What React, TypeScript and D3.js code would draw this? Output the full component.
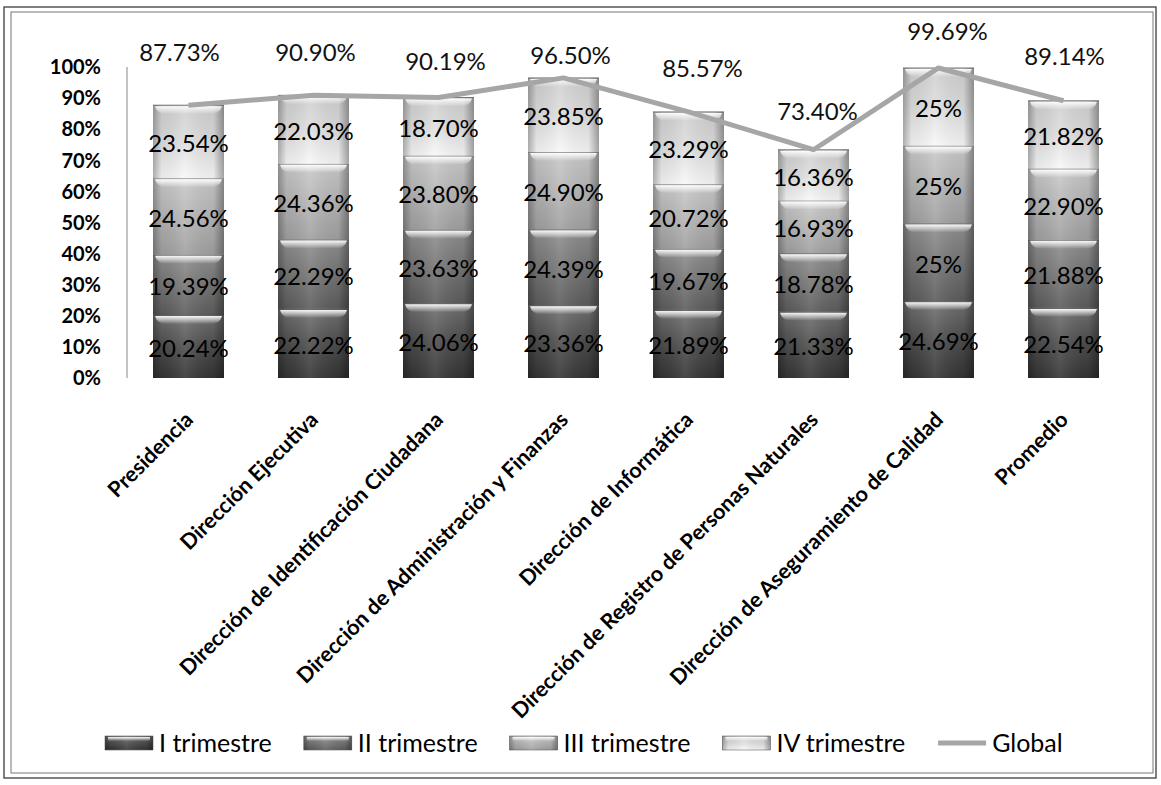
import React from "react";
import * as d3 from "d3";

const categories = [
  "Presidencia",
  "Dirección Ejecutiva",
  "Dirección de Identificación Ciudadana",
  "Dirección de Administración y Finanzas",
  "Dirección de Informática",
  "Dirección de Registro de Personas Naturales",
  "Dirección de Aseguramiento de Calidad",
  "Promedio",
];
const trimestreI = [20.24, 22.22, 24.06, 23.36, 21.89, 21.33, 24.69, 22.54];
const trimestreII = [19.39, 22.29, 23.63, 24.39, 19.67, 18.78, 25, 21.88];
const trimestreIII = [24.56, 24.36, 23.8, 24.9, 20.72, 16.93, 25, 22.9];
const trimestreIV = [23.54, 22.03, 18.7, 23.85, 23.29, 16.36, 25, 21.82];
const globalValues = [87.73, 90.9, 90.19, 96.5, 85.57, 73.4, 99.69, 89.14];
const seriesNames = ["I trimestre", "II trimestre", "III trimestre", "IV trimestre"];
const lineName = "Global";
const yTicks = [0, 10, 20, 30, 40, 50, 60, 70, 80, 90, 100];

// layout (not data): nudges of the Global labels, as placed in the reference
const globalLabelNudge: [number, number][] = [
  [-9, -53], [2, -43], [7, -36], [7, -22], [14, -43], [4, -38], [9, -36], [1, -44],
];

const W = 1161;
const H = 785;
const FONT = "Lato, 'Open Sans', sans-serif";

const seriesStops = [
  ["#727272", "#4e4e4e", "#343434"],
  ["#909090", "#767676", "#5c5c5c"],
  ["#cacaca", "#b6b6b6", "#a0a0a0"],
  ["#cfcfcf", "#dedede", "#f8f8f8"],
];

function fmt(v: number) {
  return Number.isInteger(v) ? `${v}%` : `${v.toFixed(2)}%`;
}

export default function App() {
  const x = d3.scaleBand<string>().domain(categories).range([126, 1126]).paddingInner(0.432).paddingOuter(0.216);
  const y = d3.scaleLinear().domain([0, 100]).range([378, 67]);
  const bw = x.bandwidth();

  const rows = categories.map((c, i) => ({
    cat: c,
    v0: trimestreI[i],
    v1: trimestreII[i],
    v2: trimestreIII[i],
    v3: trimestreIV[i],
  }));
  const stack = d3.stack<any>().keys(["v0", "v1", "v2", "v3"])(rows);

  const line = d3
    .line<number>()
    .x((_, i) => (x(categories[i]) as number) + bw / 2)
    .y((d) => y(d));

  const legendItems = [...seriesNames.map((n, i) => ({ name: n, kind: "bar", i })), { name: lineName, kind: "line", i: 4 }];
  const canvas = typeof document !== "undefined" ? document.createElement("canvas") : null;
  const ctx = canvas ? canvas.getContext("2d") : null;
  const legendFontSize = 25;
  if (ctx) ctx.font = `${legendFontSize}px ${FONT}`;
  let lx = 105;
  const legendPos = legendItems.map((it) => {
    const w = ctx ? ctx.measureText(it.name).width : it.name.length * 11;
    const p = { ...it, x: lx, tw: w };
    lx += 48 + 6 + w + 32;
    return p;
  });

  return (
    <svg width={W} height={H} style={{ position: "absolute", left: 0, top: 0, background: "#fff" }} fontFamily={FONT}>
      <defs>
        {seriesStops.map((s, i) => (
          <linearGradient key={i} id={`vg${i}`} x1="0" y1="0" x2="0" y2="1">
            <stop offset="0%" stopColor={s[0]} />
            <stop offset="50%" stopColor={s[1]} />
            <stop offset="100%" stopColor={s[2]} />
          </linearGradient>
        ))}
        <linearGradient id="hg" x1="0" y1="0" x2="1" y2="0">
          <stop offset="0%" stopColor="#000" stopOpacity={0.3} />
          <stop offset="12%" stopColor="#000" stopOpacity={0.06} />
          <stop offset="45%" stopColor="#fff" stopOpacity={0.1} />
          <stop offset="85%" stopColor="#000" stopOpacity={0.05} />
          <stop offset="100%" stopColor="#000" stopOpacity={0.35} />
        </linearGradient>
        <linearGradient id="shine" x1="0" y1="0" x2="0" y2="1">
          <stop offset="0%" stopColor="#fff" stopOpacity={0.95} />
          <stop offset="100%" stopColor="#fff" stopOpacity={0} />
        </linearGradient>
      </defs>

      {/* frame */}
      <rect x={4} y={7} width={1152} height={771} fill="none" stroke="#555" strokeWidth={1.5} />
      <rect x={11} y={12} width={1142} height={761} fill="none" stroke="#777" strokeWidth={1} />

      {/* y axis */}
      <line x1={127} x2={127} y1={y(100)} y2={y(0)} stroke="#888" strokeWidth={1} />
      {yTicks.map((t) => (
        <text key={t} x={101} y={y(t)} dy="0.36em" textAnchor="end" fontWeight="bold" fontSize={20} fill="#000">
          {`${t}%`}
        </text>
      ))}

      {/* bars */}
      {stack.map((layer, si) => (
        <g key={si}>
          {layer.map((d, i) => {
            const x0 = x(categories[i]) as number;
            const yt = y(d[1]);
            const yb = y(d[0]);
            const h = yb - yt;
            return (
              <g key={i}>
                <rect x={x0} y={yt} width={bw} height={h} fill={`url(#vg${si})`} />
                <rect x={x0} y={yt} width={bw} height={h} fill="url(#hg)" />
                <path
                  d={`M${x0 + 2},${yt + 1} L${x0 + bw - 2},${yt + 1} Q${x0 + bw - 4},${yt + 9} ${x0 + bw - 14},${yt + 9} L${x0 + 14},${yt + 9} Q${x0 + 4},${yt + 9} ${x0 + 2},${yt + 1} Z`}
                  fill="url(#shine)"
                />
                <line x1={x0} x2={x0 + bw} y1={yt} y2={yt} stroke="#333" strokeOpacity={0.6} strokeWidth={1} />
              </g>
            );
          })}
        </g>
      ))}

      {/* segment labels */}
      {stack.map((layer, si) =>
        layer.map((d, i) => {
          const v = [trimestreI, trimestreII, trimestreIII, trimestreIV][si][i];
          return (
            <text
              key={`${si}-${i}`}
              x={(x(categories[i]) as number) + bw / 2}
              y={(y(d[0]) + y(d[1])) / 2 + 2}
              dy="0.35em"
              textAnchor="middle"
              fontSize={24}
              fill="#000"
            >
              {fmt(v)}
            </text>
          );
        })
      )}

      {/* Global line */}
      <path d={line(globalValues) || ""} fill="none" stroke="#a6a6a6" strokeWidth={5} strokeLinejoin="round" />
      {globalValues.map((v, i) => (
        <text
          key={i}
          x={(x(categories[i]) as number) + bw / 2 + globalLabelNudge[i][0]}
          y={y(v) + globalLabelNudge[i][1]}
          dy="0.35em"
          textAnchor="middle"
          fontSize={24}
          fill="#111"
        >
          {fmt(v)}
        </text>
      ))}

      {/* x labels */}
      {categories.map((c) => (
        <text
          key={c}
          transform={`translate(${(x(c) as number) + bw / 2 + 6},${421}) rotate(-45)`}
          textAnchor="end"
          fontWeight="bold"
          fontSize={21.5}
          fill="#000"
        >
          {c}
        </text>
      ))}

      {/* legend */}
      {legendPos.map((it) => (
        <g key={it.name}>
          {it.kind === "bar" ? (
            <g>
              <rect x={it.x} y={736} width={48} height={14} fill={`url(#vg${it.i})`} stroke="#666" strokeWidth={0.6} />
              <rect x={it.x} y={736} width={48} height={14} fill="url(#hg)" />
              <rect x={it.x + 3} y={737} width={42} height={4} fill="url(#shine)" />
            </g>
          ) : (
            <line x1={it.x} x2={it.x + 48} y1={743} y2={743} stroke="#a6a6a6" strokeWidth={5} />
          )}
          <text x={it.x + 54} y={743} dy="0.35em" fontSize={legendFontSize} fill="#000">
            {it.name}
          </text>
        </g>
      ))}
    </svg>
  );
}
